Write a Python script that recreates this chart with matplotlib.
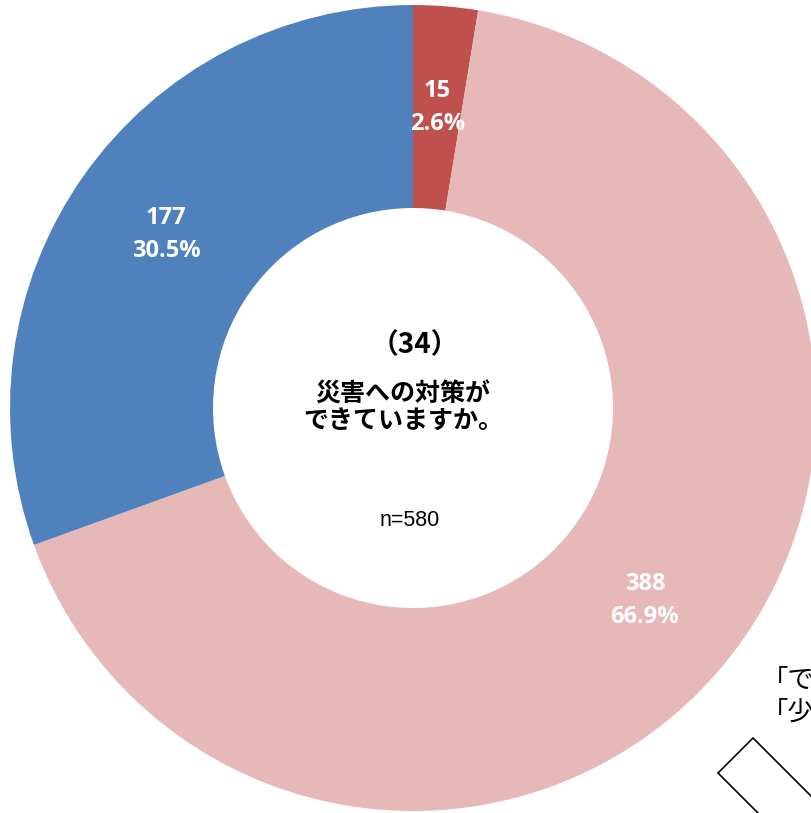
import numpy as np
import matplotlib
matplotlib.use("Agg")
import matplotlib.pyplot as plt
from matplotlib.patches import Polygon

plt.rcParams['font.family'] = ['Noto Sans CJK JP', 'DejaVu Sans']

values = [15, 388, 177]
percents = ["2.6%", "66.9%", "30.5%"]
colors = ["#C0504D", "#E6B9B8", "#4F81BD"]
n_total = 580
title_num = "（34）"
title_lines = "災害への対策が\nできていますか。"
side_lines = ["「できている」", "「少しできている」"]

W, H = 812, 813
fig = plt.figure(figsize=(W / 100, H / 100), dpi=100)
ax = fig.add_axes([0, 0, 1, 1])

cx, cy = 413, H - 408
r_out, r_in = 403, 200

ax.pie(values, startangle=90, counterclock=False, colors=colors,
       radius=r_out, center=(cx, cy),
       wedgeprops=dict(width=r_out - r_in, edgecolor='none', linewidth=0))

# labels at mid ring
tot = sum(values)
cum = np.cumsum([0] + values)
r_mid = (r_out + r_in) / 2
for i, v in enumerate(values):
    mid = (cum[i] + cum[i + 1]) / 2 / tot
    ang = np.deg2rad(90 - 360 * mid)
    x = cx + r_mid * np.cos(ang)
    y = cy + r_mid * np.sin(ang)
    ax.text(x, y, f"{v}\n{percents[i]}", ha='center', va='center',
            color='white', fontsize=17, fontweight='bold',
            family=['Open Sans', 'DejaVu Sans'], linespacing=1.5)

ax.text(cx + 2, H - 345, title_num, ha='center', va='center', fontsize=20,
        fontweight='bold')
ax.text(cx - 10, H - 408, title_lines, ha='center', va='center', fontsize=18,
        fontweight='bold', linespacing=1.1)
ax.text(cx - 3, H - 521, f"n={n_total}", ha='center', va='center',
        fontsize=15.5, family=['Liberation Sans', 'DejaVu Sans'])

ax.text(762, H - 680, side_lines[0], ha='left', va='center', fontsize=19)
ax.text(762, H - 712, side_lines[1], ha='left', va='center', fontsize=19)

d = np.array([[718, 773], [753, 738], [860, 845], [825, 880]], dtype=float)
d[:, 1] = H - d[:, 1]
ax.add_patch(Polygon(d, closed=True, facecolor='white', edgecolor='black',
                     linewidth=1.2, zorder=5))

ax.set_xlim(0, W)
ax.set_ylim(0, H)
ax.set_aspect('equal')
ax.set_axis_off()

fig.savefig("out.png", dpi=100)
